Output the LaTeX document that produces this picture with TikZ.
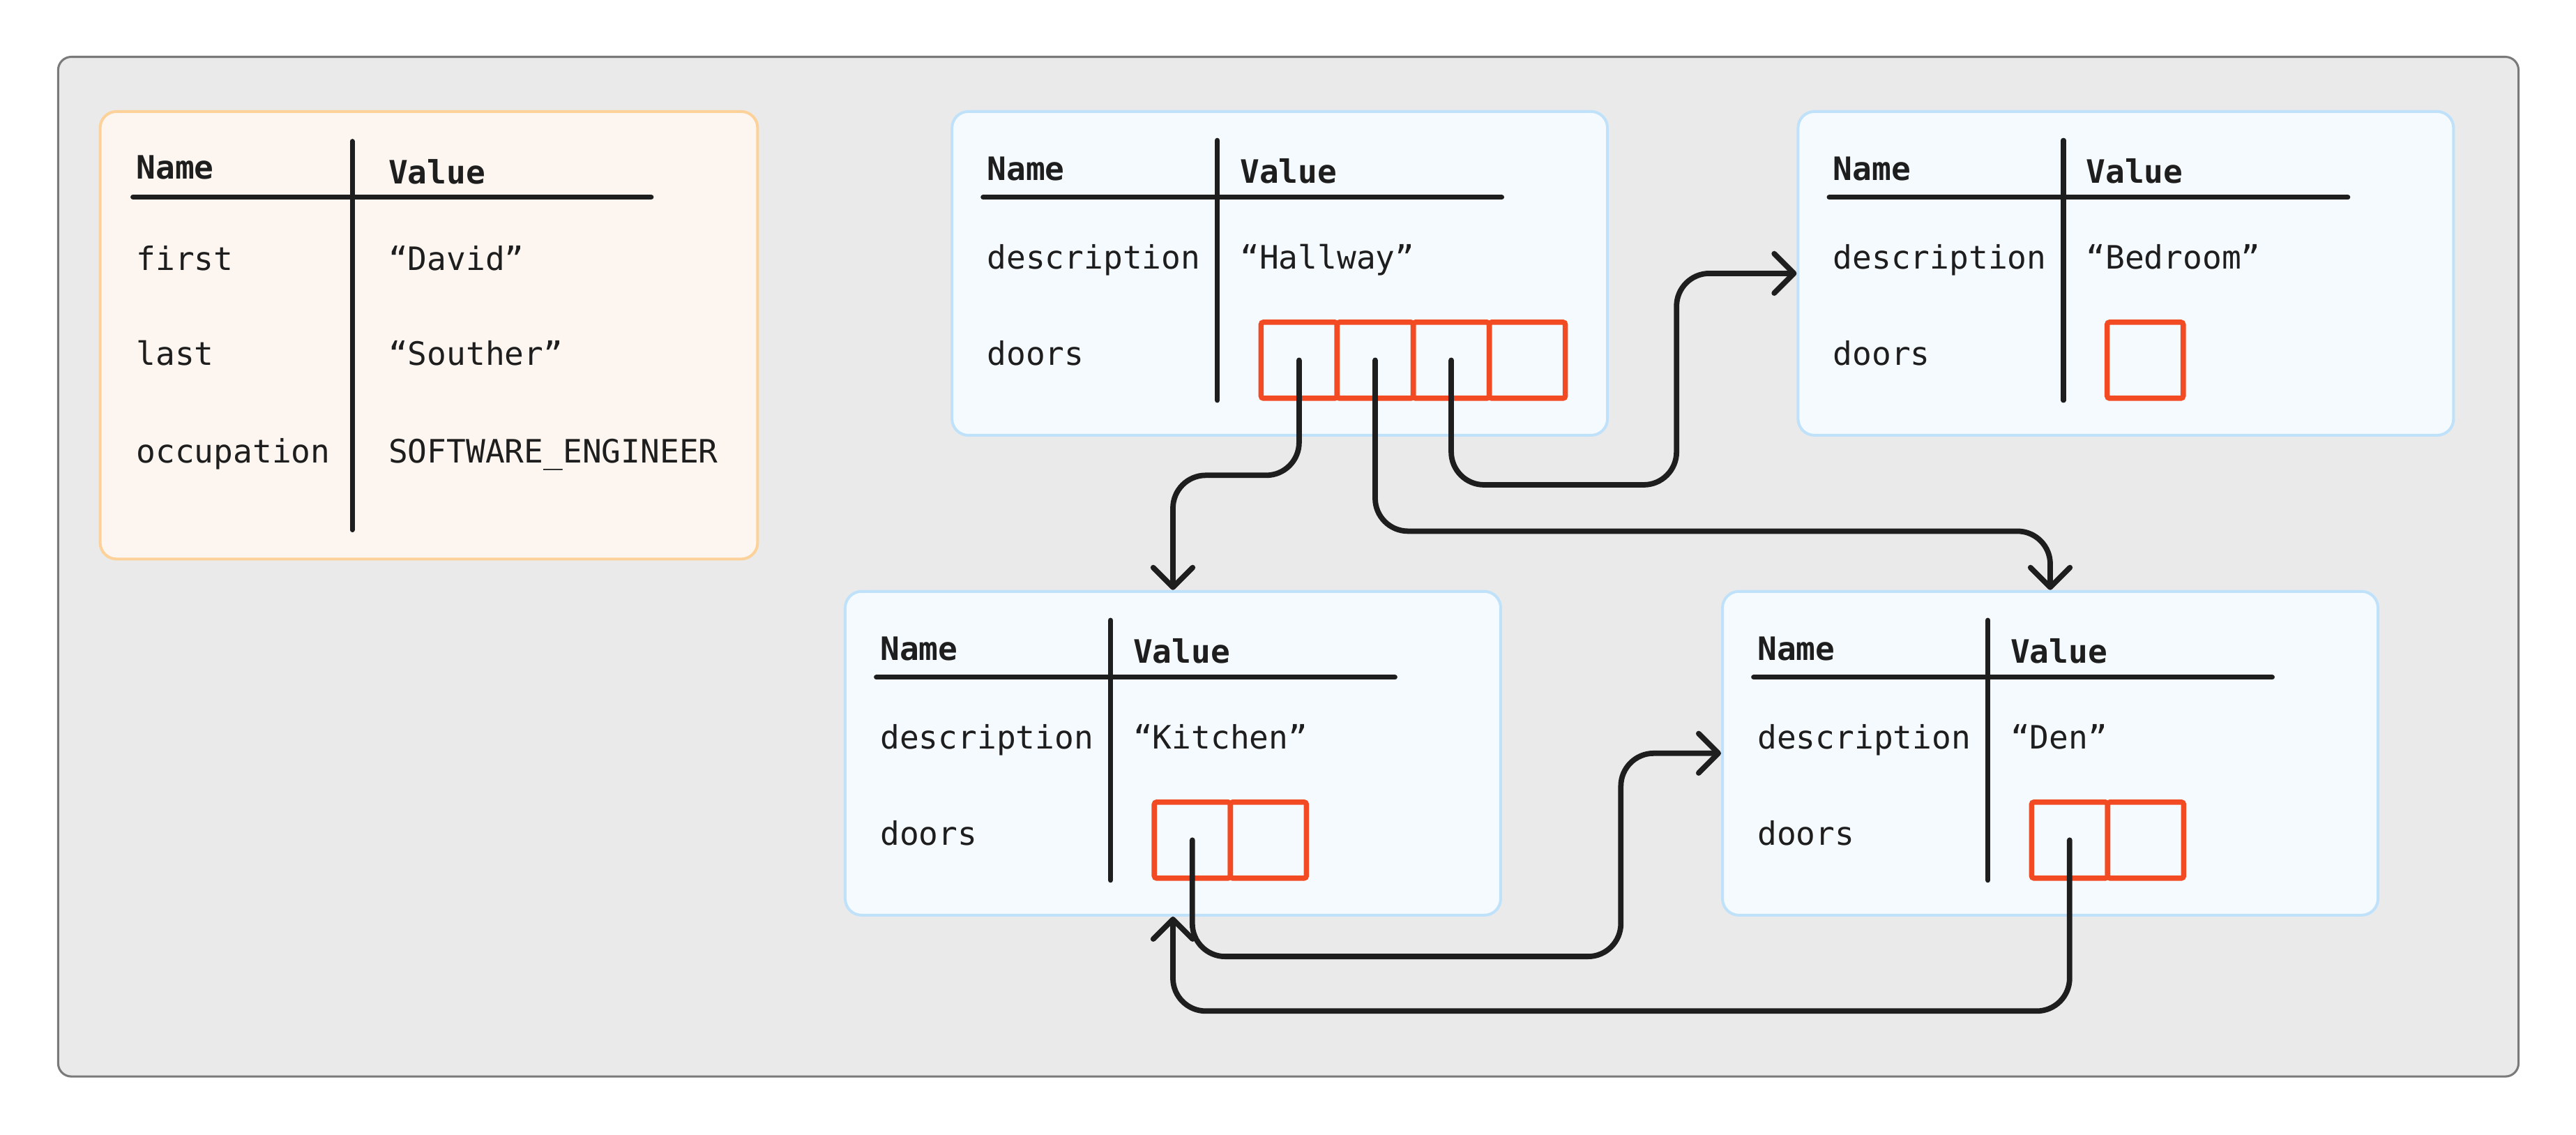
\documentclass[tikz,border=0pt]{standalone}
\usepackage{fontspec}
\setmonofont{DejaVu Sans Mono}
\usepackage{xcolor}
\usetikzlibrary{arrows.meta, positioning, calc}
\definecolor{ink}{HTML}{1E1E1E}
\definecolor{frameFill}{HTML}{EAEAEA}
\definecolor{frameLine}{HTML}{7A7A7A}
\definecolor{roomFill}{HTML}{F5FAFF}
\definecolor{roomLine}{HTML}{BFE2FA}
\definecolor{personFill}{HTML}{FDF6F0}
\definecolor{personLine}{HTML}{FCD29A}
\definecolor{doorRed}{HTML}{F24A23}
% one room record: name, top-left corner, description, number of door slots
\newcommand{\roomtable}[4]{%
  \node[roombox] (#1) at (#2) {};
  \begin{scope}[shift={(#2)}]
    \node[hd] (#1-name)  at (22,42.6)  {Name};
    \node[hd] (#1-value) at (176,44.6) {Value};
    \draw[rule] (19.8,53.1) -- (335.5,53.1);
    \draw[rule] (162.4,18.4) -- (162.4,176.6);
    \node[tx] (#1-dkey) at (22,96.6)  {description};
    \node[tx] (#1-dval) at (176,96.6) {#3};
    \node[tx] (#1-key)  at (22,155.4) {doors};
    \foreach \i in {1,...,#4}
      \node[slot] (#1-c\i) at ({189+46.3*(\i-0.5)},152.2) {};
  \end{scope}}

\begin{document}
\begin{tikzpicture}[x=1pt, y=-1pt,
  tx/.style={font=\ttfamily\fontsize{19.6}{24}\selectfont, text=ink,
             anchor=base west, inner sep=0pt},
  hd/.style={tx, font=\ttfamily\bfseries\fontsize{19.6}{24}\selectfont},
  rule/.style={draw=ink, line width=3pt, line cap=round},
  roombox/.style={draw=roomLine, fill=roomFill, line width=1.7pt,
                  rounded corners=10pt, anchor=north west, inner sep=0pt,
                  minimum width=399pt, minimum height=197pt},
  personbox/.style={roombox, draw=personLine, fill=personFill,
                    minimum width=400.2pt, minimum height=272.3pt},
  slot/.style={draw=doorRed, line width=3.2pt, rounded corners=1.5pt,
               minimum size=46.3pt, inner sep=0pt},
  ptr/.style={draw=ink, line width=3.3pt, rounded corners=20pt,
              line cap=round, -{Straight Barb[length=12pt, width=24pt, round]}}]
  \useasboundingbox (0,0) rectangle (1568,690.2);

  % Frame
  \draw[fill=frameFill, draw=frameLine, line width=1.3pt, rounded corners=8pt]
    (35.4,34.6) rectangle (1533,655);

  % Person record
  \node[personbox] (person) at (60.1,67) {};
  \node[hd] (p-name)  at (82.8,108.7) {Name};
  \node[hd] (p-value) at (236.3,111.8) {Value};
  \draw[rule] (80.9,119.9) -- (396.4,119.9);
  \draw[rule] (214.4,86) -- (214.4,322.4);
  \node[tx] (p-first) at (82.8,164.6) {first};
  \node[tx] (p-firstv) at (236.3,164.6) {“David”};
  \node[tx] (p-last) at (82.8,222.4) {last};
  \node[tx] (p-lastv) at (236.3,222.4) {“Souther”};
  \node[tx] (p-occ) at (82.8,281.8) {occupation};
  \node[tx] (p-occv) at (236.3,281.8) {SOFTWARE\_ENGINEER};

  % Rooms
  \roomtable{hall}{578.6,67}{“Hallway”}{4}
  \roomtable{bed}{1093.6,67}{“Bedroom”}{1}
  \roomtable{kit}{513.6,359}{“Kitchen”}{2}
  \roomtable{den}{1047.6,359}{“Den”}{2}

  % Door references
  \coordinate (jogA) at (1020.5,295);
  \coordinate (jogB) at (986.6,582);
  \draw[ptr] (hall-c1.center) -- ++(0,70) -| (kit.north);
  \draw[ptr] (hall-c2.center) -- ++(0,104) -| (den.north);
  \draw[ptr] (hall-c3.center) |- (jogA) |- (bed.west);
  \draw[ptr] (kit-c1.center) |- (jogB) |- (den.west);
  \draw[ptr] (den-c1.center) -- ++(0,104) -| (kit.south);
\end{tikzpicture}
\end{document}
